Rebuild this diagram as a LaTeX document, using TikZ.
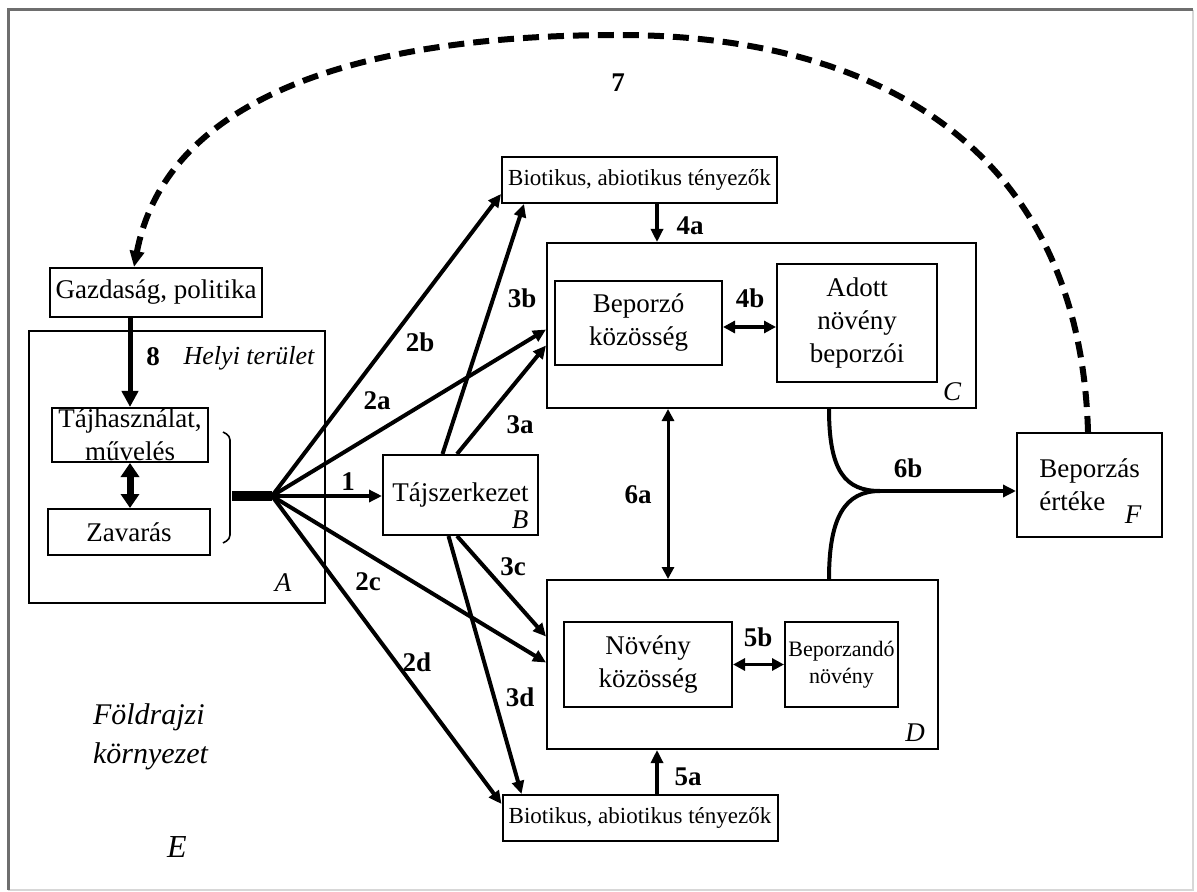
\documentclass[tikz,border=0pt]{standalone}
\usepackage{fontspec}
\setmainfont{Liberation Serif}
\usetikzlibrary{arrows.meta, calc}
\definecolor{frgray}{RGB}{110,110,110}
\definecolor{ltgray}{RGB}{215,215,215}
\newcommand{\fsmain}{\fontsize{13.5}{16.5}\selectfont}
\newcommand{\fsbio}{\fontsize{11.5}{13}\selectfont}
\newcommand{\fssmall}{\fontsize{11}{13.5}\selectfont}
\tikzset{
    box/.style={rectangle, draw=black, line width=1pt, inner sep=0pt, align=center,
                font=\fsmain},
    biobox/.style={box, font=\fsbio, minimum width=137.5pt, minimum height=23pt},
    numlabel/.style={font=\fsmain\bfseries},
    letter/.style={font=\fsmain\itshape},
    arrow/.style={-{Triangle[length=6.5pt, width=6pt]}, line width=2pt, draw=black},
    thinarrow/.style={arrow, line width=1.6pt},
    dblarrow/.style={{Triangle[length=6pt, width=6pt]}-{Triangle[length=6pt, width=6pt]},
                     line width=1.7pt},
    feedback/.style={-{Triangle[length=8pt, width=7pt]}, line width=3pt,
                     dash pattern=on 8pt off 4.5pt},
}

\begin{document}
\begin{tikzpicture}[x=0.5pt, y=-0.5pt]
    \useasboundingbox (0,0) rectangle (1197,892);
    % Frame (E)
    \draw[ltgray, line width=1pt] (1193,10) -- (1193,890) -- (8,890);
    \draw[frgray, line width=1.5pt] (8,890) -- (8,10) -- (1193,10);

    % Local area (A)
    \node[box, minimum width=148pt, minimum height=136pt] (helyi) at (177,467) {};
    \node[box, minimum width=106pt, minimum height=24.5pt] (gazd) at (156,292.5) {Gazdaság, politika};
    \node[box, minimum width=78pt, minimum height=27pt] (tajh) at (130,435) {Tájhasználat,\\művelés};
    \node[box, minimum width=81pt, minimum height=23pt] (zavar) at (129,532) {Zavarás};
    \node[font=\fontsize{13}{15}\selectfont\itshape] (helyilbl) at (249,358) {Helyi terület};
    \node[letter] (alet) at (283,583) {A};

    % Landscape structure (B)
    \node[box, minimum width=77.5pt, minimum height=40pt] (tajsz) at (460.5,495) {Tájszerkezet};
    \node[letter] (blet) at (520,520) {B};

    % Biotic, abiotic factors
    \node[biobox] (biotop) at (639.5,180) {Biotikus, abiotikus tényezők};
    \node[biobox] (biobot) at (640,818) {Biotikus, abiotikus tényezők};

    % Pollinators (C)
    \node[box, minimum width=214.5pt, minimum height=82.5pt] (polc) at (761.5,325.5) {};
    \node[box, minimum width=83.5pt, minimum height=42pt] (bepk) at (638.5,323) {Beporzó\\közösség};
    \node[box, minimum width=80pt, minimum height=59pt] (adott) at (857,323) {Adott\\növény\\beporzói};
    \node[letter] (clet) at (952,392) {C};

    % Plants (D)
    \node[box, minimum width=195.5pt, minimum height=84.5pt] (plad) at (742.5,664.5) {};
    \node[box, minimum width=84pt, minimum height=42.5pt] (novk) at (648,664.5) {Növény\\közösség};
    \node[box, font=\fssmall, minimum width=56.5pt, minimum height=42.5pt] (bepn) at (841.5,664.5) {Beporzandó\\növény};
    \node[letter] (dlet) at (915,733) {D};

    % Pollination value (F)
    \node[box, align=left, minimum width=72.5pt, minimum height=52pt] (ertek) at (1089.5,485) {Beporzás\\értéke};
    \node[letter] (flet) at (1133,515) {F};

    % Geographic environment (E)
    \node[anchor=west, align=left, font=\fontsize{15}{19.5}\selectfont\itshape] (foldr) at (86,737) {Földrajzi\\környezet};
    \node[font=\fontsize{16}{18}\selectfont\itshape] (elet) at (177,847) {E};

    % Bracket and hub
    \coordinate (stem) at (232,496);
    \coordinate (hub) at (272,496);
    \draw[line width=0.8pt, rounded corners=2pt] (223,432) -- (230,436) -- (230,539) -- (223,543);
    \draw[line width=5pt] (stem) -- (hub);

    % Arrows
    \draw[arrow, line width=2.5pt, -{Triangle[length=8pt, width=8pt]}] ([xshift=-13pt]gazd.south) -- ([xshift=-13pt]gazd.south |- tajh.north);
    \draw[{Triangle[length=7pt, width=9pt]}-{Triangle[length=7pt, width=9pt]}, line width=3.5pt] (tajh.south) -- (zavar.north -| tajh.south);
    \draw[arrow] (hub) -- (hub -| tajsz.west);
    \draw[arrow] (hub) -- ([yshift=5pt]biotop.south west);
    \draw[arrow] (hub) -- ([yshift=-2pt]polc.west);
    \draw[arrow] (hub) -- ([yshift=1pt]plad.west);
    \draw[arrow] (hub) -- ([yshift=-5pt]biobot.north west);
    \draw[arrow] ([xshift=-9pt]tajsz.north) -- ([xshift=11.5pt]biotop.south west);
    \draw[arrow] ([xshift=-1.75pt]tajsz.north) -- ([yshift=-10pt]polc.west);
    \draw[arrow] ([xshift=-1.75pt]tajsz.south) -- ([yshift=14pt]plad.west);
    \draw[arrow] ([xshift=-6pt]tajsz.south) -- ([xshift=10pt]biobot.north west);
    \draw[thinarrow] ([xshift=8.75pt]biotop.south) -- ([xshift=8.75pt]biotop.south |- polc.north);
    \draw[thinarrow] ([xshift=8.5pt]biobot.north) -- ([xshift=8.5pt]biobot.north |- plad.south);
    \draw[dblarrow] ([yshift=-2pt]bepk.east) -- ([yshift=-2pt]bepk.east -| adott.west);
    \draw[dblarrow] (novk.east) -- (bepn.west);
    \draw[dblarrow, line width=1.5pt] ([xshift=-46.75pt]polc.south) -- ([xshift=-46.75pt]polc.south |- plad.north);

    % Merging into pollination value
    \coordinate (merge) at (880,491);
    \draw[line width=2pt] ([xshift=33.75pt]polc.south) .. controls +(0,62) and +(-35,0) .. (merge);
    \draw[line width=2pt] ([xshift=43.25pt]plad.north) .. controls +(0,-62) and +(-35,0) .. (merge);
    \draw[arrow, line width=2.4pt] (merge) -- (merge -| ertek.west);

    % Feedback
    \coordinate (apex) at (618,35);
    \draw[feedback] ([xshift=-0.75pt]ertek.north) .. controls (1080,150) and (880,35) .. (apex)
        .. controls (400,35) and (170,80) .. ([xshift=-11pt]gazd.north);

    % Labels
    \node[numlabel] (l8) at (153,357) {8};
    \node[numlabel] (l1) at (348,482) {1};
    \node[numlabel] (l2a) at (377,401) {2a};
    \node[numlabel] (l2b) at (420,342) {2b};
    \node[numlabel] (l2c) at (368,582) {2c};
    \node[numlabel] (l2d) at (417,662) {2d};
    \node[numlabel] (l3a) at (520,425) {3a};
    \node[numlabel] (l3b) at (522,298) {3b};
    \node[numlabel] (l3c) at (513,567) {3c};
    \node[numlabel] (l3d) at (520,697) {3d};
    \node[numlabel] (l4a) at (690,226) {4a};
    \node[numlabel] (l4b) at (750,298) {4b};
    \node[numlabel] (l5a) at (688,777) {5a};
    \node[numlabel] (l5b) at (758,637) {5b};
    \node[numlabel] (l6a) at (638,495) {6a};
    \node[numlabel] (l6b) at (908,468) {6b};
    \node[numlabel] (l7) at (618,83) {7};
\end{tikzpicture}
\end{document}
